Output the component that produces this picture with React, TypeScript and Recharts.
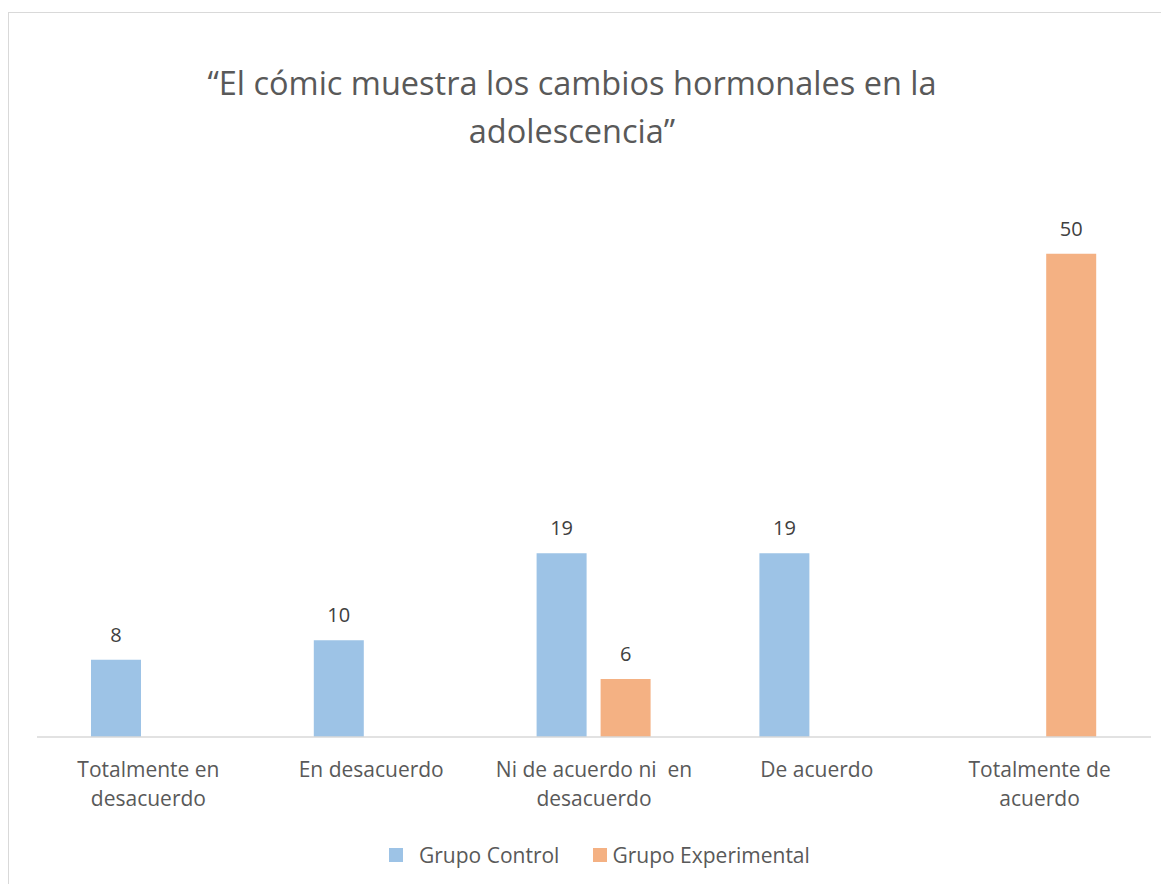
import { BarChart, Bar, XAxis, YAxis, LabelList } from "recharts";

const categories = [
  "Totalmente en\ndesacuerdo",
  "En desacuerdo",
  "Ni de acuerdo ni  en\ndesacuerdo",
  "De acuerdo",
  "Totalmente de\nacuerdo",
];
const grupoControl = [8, 10, 19, 19, null];
const grupoExperimental = [null, null, 6, null, 50];
const seriesNames = ["Grupo Control", "Grupo Experimental"];
const seriesColors = ["#9DC3E6", "#F4B183"];
const titleLines = ["\u201cEl cómic muestra los cambios hormonales en la", "adolescencia\u201d"];

const data = categories.map((c, i) => ({
  name: c,
  control: grupoControl[i],
  experimental: grupoExperimental[i],
}));

const FONT = "'Open Sans', sans-serif";

const CategoryTick = (props: any) => {
  const { x, y, payload } = props;
  const lines = String(payload.value).split("\n");
  return (
    <g transform={`translate(${x},${y})`}>
      {lines.map((l, i) => (
        <text
          key={i}
          x={0}
          y={40 + i * 29}
          textAnchor="middle"
          fill="#595959"
          fontSize={21}
          fontFamily={FONT}
          style={{ whiteSpace: "pre" }}
        >
          {l}
        </text>
      ))}
    </g>
  );
};

const fmt = (v: any) => (v === null || v === undefined ? "" : v);

export default function App() {
  return (
    <div style={{ paddingTop: 4 }}>
      <div
        style={{
          position: "relative",
          width: 1162,
          height: 872,
          border: "1px solid #d9d9d9",
          background: "#fff",
          fontFamily: FONT,
        }}
      >
        <svg
          width={1162}
          height={160}
          style={{ position: "absolute", left: 0, top: 0 }}
        >
          {titleLines.map((t, i) => (
            <text
              key={i}
              x={563}
              y={82 + i * 48}
              textAnchor="middle"
              fill="#595959"
              fontSize={32.5}
              fontFamily={FONT}
            >
              {t}
            </text>
          ))}
        </svg>
        <BarChart
          width={1160}
          height={870}
          data={data}
          margin={{ top: 144, right: 18, bottom: 145, left: 28 }}
          barSize={50}
          barGap={14}
        >
          <XAxis
            dataKey="name"
            height={1}
            axisLine={{ stroke: "#d9d9d9", strokeWidth: 1.5 }}
            tickLine={false}
            tickSize={0}
            tickMargin={0}
            interval={0}
            tick={<CategoryTick />}
          />
          <YAxis hide domain={[0, 60]} />
          <Bar dataKey="control" name={seriesNames[0]} fill={seriesColors[0]} isAnimationActive={false}>
            <LabelList
              dataKey="control"
              position="top"
              offset={18}
              formatter={fmt}
              fill="#404040"
              fontSize={20}
              fontFamily={FONT}
            />
          </Bar>
          <Bar dataKey="experimental" name={seriesNames[1]} fill={seriesColors[1]} isAnimationActive={false}>
            <LabelList
              dataKey="experimental"
              position="top"
              offset={18}
              formatter={fmt}
              fill="#404040"
              fontSize={20}
              fontFamily={FONT}
            />
          </Bar>
        </BarChart>
        <div
          style={{
            position: "absolute",
            top: 828,
            left: 380,
            display: "flex",
            alignItems: "center",
            fontSize: 21,
            color: "#595959",
          }}
        >
          {seriesNames.map((n, i) => (
            <div key={n} style={{ display: "flex", alignItems: "center", marginRight: i === 0 ? 34 : 0 }}>
              <span
                style={{
                  display: "inline-block",
                  width: 14,
                  height: 14,
                  background: seriesColors[i],
                  marginRight: i === 0 ? 16 : 5,
                }}
              />
              <span>{n}</span>
            </div>
          ))}
        </div>
      </div>
    </div>
  );
}
